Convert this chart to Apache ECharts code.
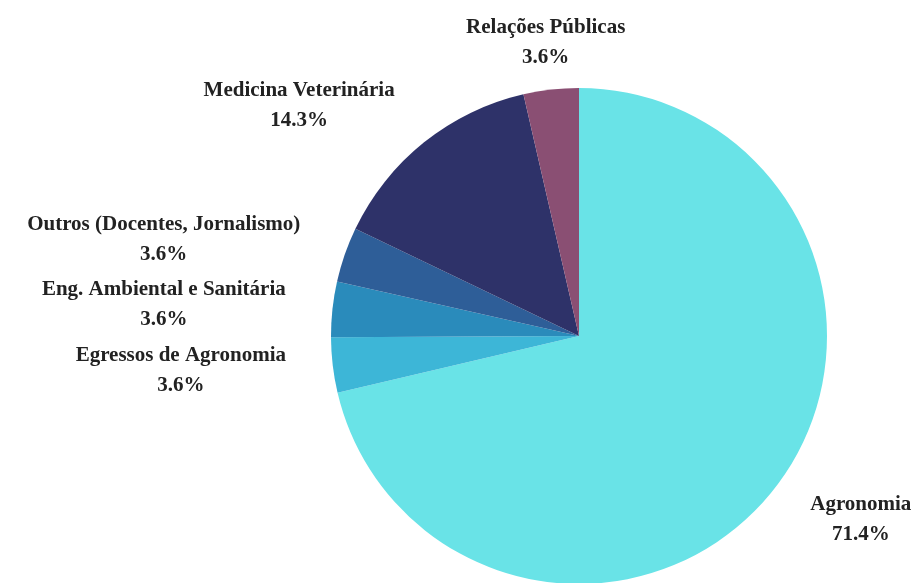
<!DOCTYPE html>
<html>
<head>
<meta charset="utf-8">
<script src="https://cdn.jsdelivr.net/npm/echarts@6/dist/echarts.min.js"></script>
<style>
html,body{margin:0;padding:0;background:#fff;}
#chart{width:914px;height:583px;}
</style>
</head>
<body>
<div id="chart"></div>
<script>
const categories = ['Agronomia', 'Egressos de Agronomia', 'Eng. Ambiental e Sanitária', 'Outros (Docentes, Jornalismo)', 'Medicina Veterinária', 'Relações Públicas'];
const values = [71.4, 3.6, 3.6, 3.6, 14.3, 3.6];
const colors = ['#69e3e7', '#3db6d7', '#2a8bbb', '#2e5e98', '#2e3269', '#8a4f73'];

const chart = echarts.init(document.getElementById('chart'));
chart.setOption({
  animation: false,
  backgroundColor: '#ffffff',
  series: [{
    type: 'pie',
    center: [579, 336],
    radius: [0, 248],
    startAngle: 90,
    clockwise: true,
    avoidLabelOverlap: false,
    data: categories.map((c, i) => ({ name: c, value: values[i], itemStyle: { color: colors[i] } })),
    itemStyle: { borderWidth: 0 },
    label: {
      show: true,
      position: 'outside',
      distanceToLabelLine: 0,
      formatter: p => '{t|' + p.name + '}\n{t|' + p.value.toFixed(1) + '%}',
      rich: {
        t: {
          align: 'center',
          fontFamily: 'Liberation Serif, Times New Roman, serif',
          fontWeight: 'bold',
          fontSize: 21,
          lineHeight: 30,
          color: '#222'
        }
      }
    },
    labelLine: { show: false, length: 47, length2: 0 },
    labelLayout: function (params) {
      // the label of the small slice next to 12 o'clock sits centred over its slice
      if (params.dataIndex === categories.length - 1) {
        return { dx: params.labelRect.width / 2 };
      }
      return {};
    },
    emphasis: { disabled: true }
  }]
});
</script>
</body>
</html>
